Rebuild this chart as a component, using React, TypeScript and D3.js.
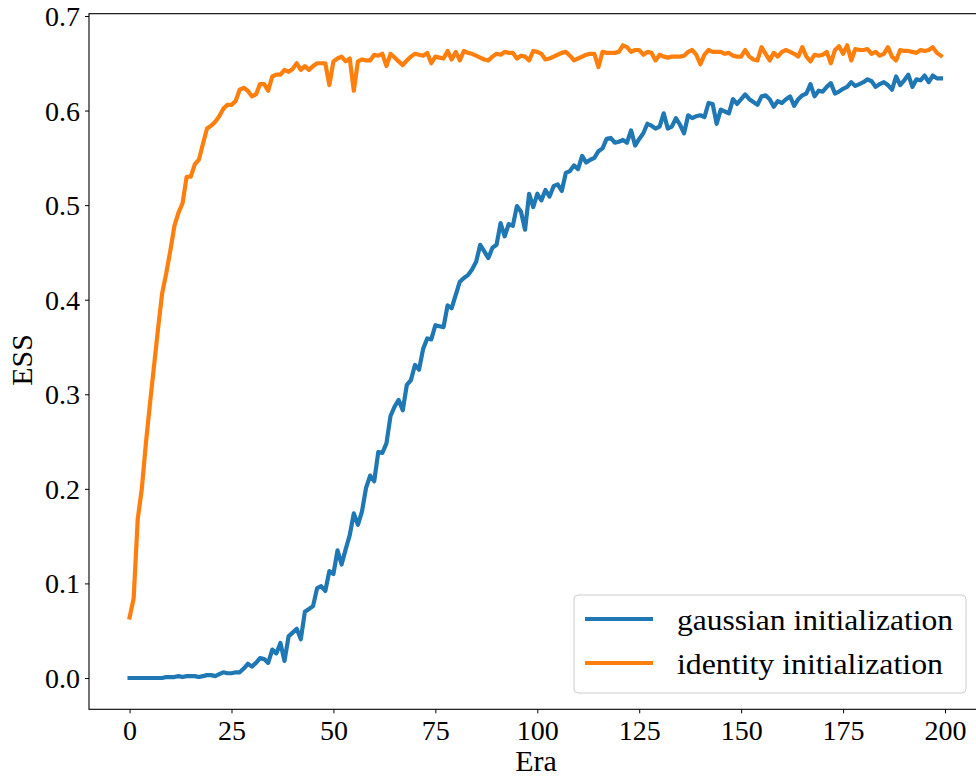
import React, { useEffect, useRef } from "react";
import * as d3 from "d3";

// ESS per era (eras 0..199)
const gaussianEss = [
  0.0, 0.0, 0.0, 0.0, 0.0, 0.0, 0.0, 0.0, 0.0, 0.001,
  0.001, 0.001, 0.002, 0.001, 0.002, 0.002, 0.002, 0.001, 0.002, 0.003,
  0.003, 0.002, 0.004, 0.006, 0.005, 0.005, 0.006, 0.006, 0.01, 0.015,
  0.012, 0.016, 0.021, 0.02, 0.016, 0.03, 0.026, 0.037, 0.018, 0.044,
  0.048, 0.052, 0.041, 0.07, 0.073, 0.076, 0.095, 0.097, 0.092, 0.113,
  0.11, 0.135, 0.12, 0.136, 0.151, 0.174, 0.162, 0.176, 0.201, 0.214,
  0.208, 0.239, 0.238, 0.248, 0.277, 0.287, 0.294, 0.283, 0.31, 0.315,
  0.331, 0.326, 0.348, 0.359, 0.358, 0.373, 0.372, 0.371, 0.394, 0.391,
  0.405, 0.419, 0.423, 0.426, 0.432, 0.44, 0.458, 0.451, 0.444, 0.455,
  0.458, 0.481, 0.467, 0.48, 0.478, 0.499, 0.493, 0.474, 0.512, 0.498,
  0.512, 0.505, 0.516, 0.509, 0.52, 0.522, 0.515, 0.534, 0.536, 0.542,
  0.538, 0.552, 0.545, 0.548, 0.55, 0.557, 0.56, 0.57, 0.571, 0.566,
  0.567, 0.569, 0.566, 0.579, 0.563, 0.57, 0.576, 0.586, 0.584, 0.581,
  0.583, 0.597, 0.581, 0.583, 0.592, 0.585, 0.576, 0.595, 0.592, 0.594,
  0.595, 0.593, 0.608, 0.607, 0.586, 0.601, 0.599, 0.597, 0.612, 0.607,
  0.612, 0.617, 0.612, 0.609, 0.606, 0.615, 0.616, 0.612, 0.604, 0.61,
  0.608, 0.612, 0.615, 0.605, 0.612, 0.616, 0.618, 0.628, 0.615, 0.621,
  0.62, 0.625, 0.629, 0.618, 0.62, 0.623, 0.625, 0.63, 0.626, 0.628,
  0.63, 0.633, 0.631, 0.625, 0.628, 0.63, 0.627, 0.622, 0.636, 0.627,
  0.632, 0.638, 0.625, 0.633, 0.632, 0.637, 0.63, 0.637, 0.634, 0.634,
];

const identityEss = [
  0.064, 0.084, 0.168, 0.2, 0.248, 0.29, 0.33, 0.37, 0.407, 0.428,
  0.452, 0.478, 0.492, 0.502, 0.53, 0.53, 0.543, 0.548, 0.565, 0.581,
  0.584, 0.588, 0.594, 0.602, 0.606, 0.606, 0.61, 0.622, 0.624, 0.621,
  0.615, 0.617, 0.628, 0.628, 0.621, 0.636, 0.638, 0.638, 0.643, 0.641,
  0.644, 0.65, 0.643, 0.647, 0.643, 0.647, 0.65, 0.65, 0.65, 0.627,
  0.652, 0.655, 0.657, 0.652, 0.655, 0.621, 0.652, 0.654, 0.653, 0.653,
  0.659, 0.658, 0.66, 0.647, 0.66, 0.656, 0.652, 0.648, 0.653, 0.657,
  0.66, 0.659, 0.658, 0.661, 0.65, 0.657, 0.656, 0.655, 0.663, 0.654,
  0.662, 0.653, 0.663, 0.661, 0.66, 0.658, 0.656, 0.654, 0.653, 0.657,
  0.66, 0.659, 0.662, 0.661, 0.661, 0.655, 0.658, 0.657, 0.653, 0.663,
  0.662, 0.66, 0.654, 0.655, 0.657, 0.659, 0.661, 0.662, 0.658, 0.653,
  0.655, 0.657, 0.659, 0.66, 0.66, 0.646, 0.662, 0.661, 0.661, 0.661,
  0.662, 0.669, 0.667, 0.662, 0.664, 0.664, 0.659, 0.662, 0.661, 0.653,
  0.659, 0.657, 0.656, 0.657, 0.657, 0.657, 0.658, 0.662, 0.664, 0.659,
  0.649, 0.659, 0.664, 0.662, 0.662, 0.662, 0.66, 0.661, 0.658, 0.657,
  0.657, 0.664, 0.657, 0.654, 0.653, 0.667, 0.66, 0.653, 0.661, 0.657,
  0.662, 0.664, 0.662, 0.66, 0.657, 0.667, 0.657, 0.652, 0.659, 0.658,
  0.659, 0.662, 0.65, 0.664, 0.668, 0.66, 0.669, 0.653, 0.665, 0.664,
  0.664, 0.665, 0.66, 0.662, 0.658, 0.66, 0.667, 0.657, 0.653, 0.664,
  0.663, 0.663, 0.662, 0.661, 0.664, 0.663, 0.664, 0.667, 0.661, 0.658,
];

const xTicks = [0, 25, 50, 75, 100, 125, 150, 175, 200];
const yTicks = [0.0, 0.1, 0.2, 0.3, 0.4, 0.5, 0.6, 0.7];
const seriesNames = ["gaussian initialization", "identity initialization"];
const seriesColors = ["#1f77b4", "#ff7f0e"];
// legend label widths as measured in the reference (LaTeX font is wider than Times)
const legendTextWidths = [276, 266];

const FONT = "'Liberation Serif', 'DejaVu Serif', serif";

const App = () => {
  const svgRef = useRef<SVGSVGElement>(null);

  const width = 976;
  const height = 779;
  const left = 89;
  const right = 981.5;
  const top = 13.7;
  const bottom = 709.3;

  // matplotlib style 5% margins around the data
  const xScale = d3.scaleLinear().domain([-9.95, 208.95]).range([left, right]);
  const yScale = d3.scaleLinear().domain([-0.0331, 0.7024]).range([bottom, top]);

  useEffect(() => {
    const svg = d3.select(svgRef.current);

    const xAxis = d3
      .axisBottom(xScale)
      .tickValues(xTicks)
      .tickSize(4)
      .tickPadding(5)
      .tickFormat((d) => String(d));
    svg
      .select<SVGGElement>(".x-axis")
      .attr("transform", `translate(0,${bottom})`)
      .call(xAxis)
      .call((g) => g.select(".domain").remove());

    const yAxis = d3
      .axisLeft(yScale)
      .tickValues(yTicks)
      .tickSize(4)
      .tickPadding(5)
      .tickFormat(d3.format(".1f"));
    svg
      .select<SVGGElement>(".y-axis")
      .attr("transform", `translate(${left},0)`)
      .call(yAxis)
      .call((g) => g.select(".domain").remove());

    svg
      .selectAll(".x-axis text, .y-axis text")
      .attr("font-family", FONT)
      .attr("font-size", 28)
      .attr("fill", "#000");
    svg.selectAll(".x-axis text").attr("dy", "0.76em");
    svg.selectAll(".y-axis text").attr("dy", "0.34em");
    svg.selectAll(".x-axis line, .y-axis line").attr("stroke", "#000").attr("stroke-width", 1);
  }, []);

  const line = d3
    .line<number>()
    .x((_, i) => xScale(i))
    .y((d) => yScale(d));

  return (
    <svg
      ref={svgRef}
      width={width}
      height={height}
      style={{ position: "absolute", left: 0, top: 0, background: "#fff" }}
    >
      <rect x={0} y={0} width={width} height={height} fill="#fff" />
      <defs>
        <clipPath id="plot-clip">
          <rect x={left} y={top} width={right - left} height={bottom - top} />
        </clipPath>
      </defs>

      <g clipPath="url(#plot-clip)">
        {[gaussianEss, identityEss].map((s, i) => (
          <path
            key={seriesNames[i]}
            d={line(s) || ""}
            fill="none"
            stroke={seriesColors[i]}
            strokeWidth={4.2}
            strokeLinejoin="round"
            strokeLinecap="square"
          />
        ))}
      </g>

      {/* spines */}
      <rect
        x={left}
        y={top}
        width={right - left}
        height={bottom - top}
        fill="none"
        stroke="#000"
        strokeWidth={1.1}
      />

      <g className="x-axis" />
      <g className="y-axis" />

      <text
        x={536}
        y={771}
        textAnchor="middle"
        fontFamily={FONT}
        fontSize={30}
        fill="#000"
      >
        Era
      </text>
      <text
        transform="translate(32,360) rotate(-90)"
        textAnchor="middle"
        fontFamily={FONT}
        fontSize={30}
        fill="#000"
      >
        ESS
      </text>

      {/* legend */}
      <g>
        <rect
          x={574}
          y={595}
          width={392}
          height={98}
          rx={4}
          fill="#fff"
          fillOpacity={0.8}
          stroke="#ccc"
          strokeWidth={1}
        />
        {seriesNames.map((name, i) => (
          <g key={name}>
            <line
              x1={585}
              x2={653}
              y1={619 + i * 44}
              y2={619 + i * 44}
              stroke={seriesColors[i]}
              strokeWidth={4.2}
            />
            <text
              x={677}
              y={630 + i * 44}
              fontFamily={FONT}
              fontSize={29}
              textLength={legendTextWidths[i]}
              lengthAdjust="spacingAndGlyphs"
              fill="#000"
            >
              {name}
            </text>
          </g>
        ))}
      </g>
    </svg>
  );
};

export default App;
